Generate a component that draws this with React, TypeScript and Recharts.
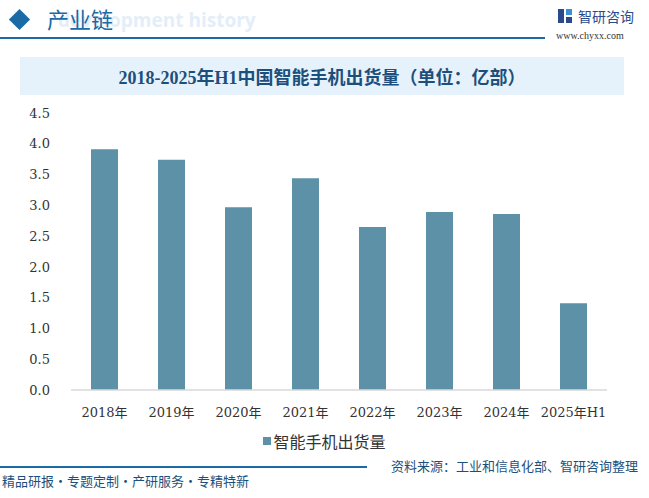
import React from "react";
import { BarChart, Bar, XAxis, YAxis } from "recharts";

const years = ["2018年", "2019年", "2020年", "2021年", "2022年", "2023年", "2024年", "2025年H1"];
const shipments = [3.91, 3.74, 2.97, 3.44, 2.65, 2.89, 2.86, 1.41];
const yTicks = [0, 0.5, 1, 1.5, 2, 2.5, 3, 3.5, 4, 4.5];

const seriesName = "智能手机出货量";
const title = "2018-2025年H1中国智能手机出货量（单位：亿部）";
const source = "资料来源：工业和信息化部、智研咨询整理";
const slogan = "精品研报・专题定制・产研服务・专精特新";

const data = years.map((year, i) => ({ year, value: shipments[i] }));

const BAR = "#5c91a8";
const BLUE = "#1b6aa5";
const DARK = "#1d4f7c";
const serif = '"Liberation Serif", "Noto Sans CJK SC", serif';
const tickFont = '"DejaVu Serif", "Noto Sans CJK SC", serif';
const sans = '"Noto Sans CJK SC", "Noto Sans", sans-serif';

export default function App() {
  return (
    <div
      style={{
        position: "absolute",
        left: 0,
        top: 0,
        width: 649,
        height: 498,
        background: "#fff",
        overflow: "hidden",
        fontFamily: sans,
      }}
    >
      {/* header */}
      <div
        style={{
          position: "absolute",
          left: 12,
          top: 12,
          width: 15,
          height: 15,
          background: BLUE,
          transform: "rotate(45deg)",
        }}
      />
      <div
        style={{
          position: "absolute",
          left: 58,
          top: 7,
          fontSize: 19,
          fontWeight: 700,
          color: "#e4eef8",
          fontFamily: '"Open Sans", sans-serif',
          whiteSpace: "nowrap",
        }}
      >
        development history
      </div>
      <div
        style={{
          position: "absolute",
          left: 47,
          top: 3,
          fontSize: 22,
          color: BLUE,
          lineHeight: "30px",
          whiteSpace: "nowrap",
        }}
      >
        产业链
      </div>
      <div
        style={{
          position: "absolute",
          left: 0,
          top: 37,
          width: 545,
          height: 2,
          background: BLUE,
        }}
      />
      <div style={{ position: "absolute", left: 558, top: 9, width: 14, height: 14 }}>
        <div style={{ position: "absolute", left: 0, top: 0, width: 6, height: 14, background: "#2b4a8c" }} />
        <div style={{ position: "absolute", left: 8, top: 0, width: 6, height: 6, background: "#3b8fd8" }} />
        <div style={{ position: "absolute", left: 8, top: 8, width: 6, height: 6, background: "#2b4a8c" }} />
      </div>
      <div
        style={{
          position: "absolute",
          left: 578,
          top: 6,
          fontSize: 14,
          color: "#2b4a8c",
          lineHeight: "20px",
          whiteSpace: "nowrap",
        }}
      >
        智研咨询
      </div>
      <div
        style={{
          position: "absolute",
          left: 556,
          top: 30,
          fontSize: 10,
          color: "#333",
          fontFamily: serif,
          whiteSpace: "nowrap",
        }}
      >
        www.chyxx.com
      </div>

      {/* title */}
      <div
        style={{
          position: "absolute",
          left: 20,
          top: 57,
          width: 604,
          height: 38,
          background: "#e6f2fb",
          display: "flex",
          alignItems: "center",
          justifyContent: "center",
          fontSize: 18,
          fontWeight: 700,
          color: DARK,
          fontFamily: serif,
          whiteSpace: "nowrap",
        }}
      >
        {title}
      </div>

      {/* chart */}
      <div style={{ position: "absolute", left: 0, top: 0 }}>
        <BarChart
          width={649}
          height={498}
          data={data}
          margin={{ top: 113, right: 42, left: 0, bottom: 78 }}
        >
          <XAxis
            dataKey="year"
            height={30}
            tickLine={false}
            axisLine={{ stroke: "#d9d9d9", strokeWidth: 1.5 }}
            tickMargin={12}
            interval={0}
            tick={{ fontSize: 13, fill: "#333", fontFamily: tickFont }}
          />
          <YAxis
            width={71}
            domain={[0, 4.5]}
            ticks={yTicks}
            axisLine={false}
            tickLine={false}
            tickMargin={15}
            tickFormatter={(v: number) => v.toFixed(1)}
            tick={{ fontSize: 13, fill: "#333", fontFamily: tickFont }}
          />
          <Bar dataKey="value" name={seriesName} fill={BAR} barSize={27} isAnimationActive={false} />
        </BarChart>
      </div>

      {/* legend */}
      <div
        style={{
          position: "absolute",
          left: 0,
          top: 429,
          width: 649,
          display: "flex",
          justifyContent: "center",
          alignItems: "center",
          fontSize: 16,
          color: "#333",
          whiteSpace: "nowrap",
        }}
      >
        <span style={{ display: "inline-block", width: 8, height: 8, background: BAR, marginRight: 2 }} />
        {seriesName}
      </div>

      {/* footer */}
      <div
        style={{
          position: "absolute",
          left: 0,
          top: 466,
          width: 367,
          height: 2,
          background: BLUE,
        }}
      />
      <div
        style={{
          position: "absolute",
          left: 2,
          top: 471,
          fontSize: 13,
          color: DARK,
          whiteSpace: "nowrap",
        }}
      >
        {slogan}
      </div>
      <div
        style={{
          position: "absolute",
          left: 391,
          top: 456,
          fontSize: 13,
          color: DARK,
          whiteSpace: "nowrap",
        }}
      >
        {source}
      </div>
    </div>
  );
}
